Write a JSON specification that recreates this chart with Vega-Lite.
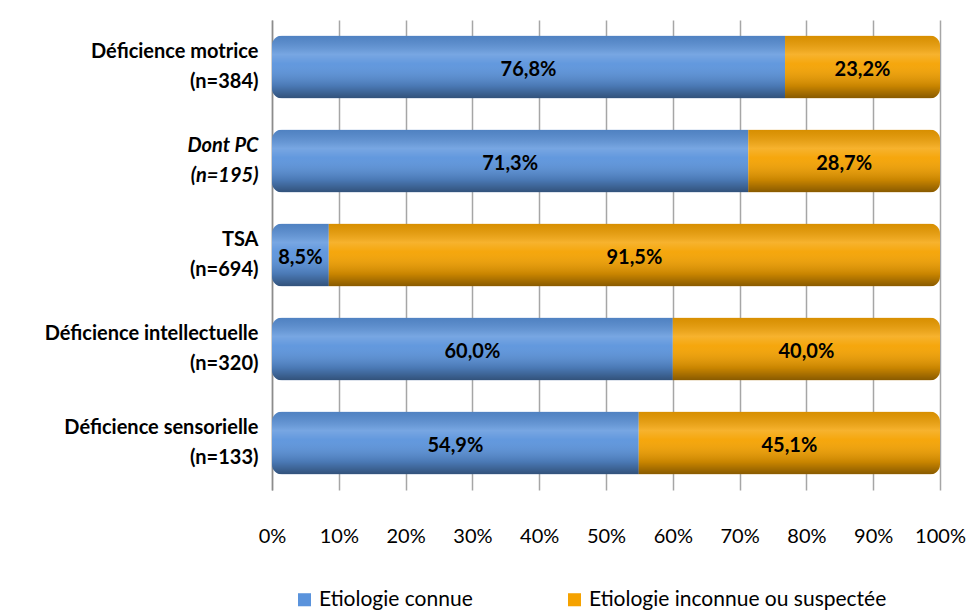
{
  "$schema": "https://vega.github.io/schema/vega-lite/v6.json",
  "width": 668,
  "height": 470,
  "autosize": "none",
  "padding": {"left": 272, "top": 20, "right": 26, "bottom": 122},
  "background": "white",
  "config": {
    "locale": {"number": {"decimal": ",", "thousands": " ", "grouping": [3], "currency": ["", " €"]}},
    "view": {"stroke": null},
    "font": "Lato"
  },
  "data": {
    "values": [
      {"cat": "Déficience motrice (n=384)", "type": "Etiologie connue", "pct": 0.768},
      {"cat": "Déficience motrice (n=384)", "type": "Etiologie inconnue ou suspectée", "pct": 0.232},
      {"cat": "Dont PC (n=195)", "type": "Etiologie connue", "pct": 0.713},
      {"cat": "Dont PC (n=195)", "type": "Etiologie inconnue ou suspectée", "pct": 0.287},
      {"cat": "TSA (n=694)", "type": "Etiologie connue", "pct": 0.085},
      {"cat": "TSA (n=694)", "type": "Etiologie inconnue ou suspectée", "pct": 0.915},
      {"cat": "Déficience intellectuelle (n=320)", "type": "Etiologie connue", "pct": 0.6},
      {"cat": "Déficience intellectuelle (n=320)", "type": "Etiologie inconnue ou suspectée", "pct": 0.4},
      {"cat": "Déficience sensorielle (n=133)", "type": "Etiologie connue", "pct": 0.549},
      {"cat": "Déficience sensorielle (n=133)", "type": "Etiologie inconnue ou suspectée", "pct": 0.451}
    ]
  },
  "encoding": {
    "y": {
      "field": "cat",
      "type": "nominal",
      "sort": null,
      "scale": {"paddingInner": 0.33, "paddingOuter": 0.165},
      "axis": {
        "title": null,
        "ticks": false,
        "domain": true,
        "domainColor": "#8c8c8c",
        "domainWidth": 1.5,
        "labelPadding": 14,
        "labelFontSize": 20,
        "labelFontWeight": "bold",
        "labelColor": "black",
        "labelLineHeight": 30,
        "labelOffset": -15,
        "labelLimit": 300,
        "labelFontStyle": {"condition": {"test": "indexof(datum.value, 'Dont PC') >= 0", "value": "italic"}, "value": "normal"},
        "labelExpr": "[substring(datum.value, 0, indexof(datum.value, ' (')), substring(datum.value, indexof(datum.value, ' (') + 1)]"
      }
    }
  },
  "layer": [
    {
      "mark": {"type": "bar", "cornerRadius": 10},
      "encoding": {
        "x": {
          "field": "pct",
          "type": "quantitative",
          "stack": "zero",
          "scale": {"domain": [0, 1], "nice": false},
          "axis": {
            "title": null,
            "format": ".0%",
            "values": [0, 0.1, 0.2, 0.3, 0.4, 0.5, 0.6, 0.7, 0.8, 0.9, 1],
            "grid": true,
            "gridColor": "#a6a6a6",
            "gridWidth": 1.5,
            "domain": false,
            "ticks": false,
            "labelFlush": false,
            "labelFontSize": 20,
            "labelColor": "black",
            "labelPadding": 36
          }
        },
        "color": {
          "field": "type",
          "type": "nominal",
          "scale": {
            "domain": ["Etiologie connue", "Etiologie inconnue ou suspectée"],
            "range": ["#5a93dc", "#f5a200"]
          },
          "legend": {
            "title": null,
            "orient": "none",
            "direction": "horizontal",
            "legendX": 22,
            "legendY": 569,
            "symbolType": "square",
            "symbolSize": 170,
            "symbolStrokeWidth": 0,
            "symbolOpacity": 1,
            "labelFontSize": 21,
            "labelColor": "black",
            "labelLimit": 400,
            "columnPadding": 91
          }
        }
      }
    },
    {
      "mark": {
        "type": "bar",
        "cornerRadius": 10,
        "color": {
          "gradient": "linear",
          "x1": 0, "y1": 0, "x2": 0, "y2": 1,
          "stops": [
            {"offset": 0, "color": "rgba(0,0,0,0.12)"},
            {"offset": 0.3, "color": "rgba(255,255,255,0.18)"},
            {"offset": 0.45, "color": "rgba(255,255,255,0.05)"},
            {"offset": 0.8, "color": "rgba(0,0,0,0.18)"},
            {"offset": 1, "color": "rgba(0,0,0,0.45)"}
          ]
        }
      },
      "encoding": {
        "x": {"field": "pct", "type": "quantitative", "stack": "zero"},
        "detail": {"field": "type"}
      }
    },
    {
      "transform": [
        {"stack": "pct", "groupby": ["cat"], "sort": [{"field": "type"}], "as": ["p0", "p1"]},
        {"fold": ["p0", "p1"], "as": ["edge", "pos"]}
      ],
      "mark": {"type": "text", "fontSize": 20, "fontWeight": "bold", "color": "black", "dy": 3},
      "encoding": {
        "x": {"field": "pos", "type": "quantitative", "aggregate": "mean"},
        "detail": {"field": "type"},
        "text": {"field": "pct", "type": "quantitative", "aggregate": "max", "format": ".1%"}
      }
    }
  ]
}
